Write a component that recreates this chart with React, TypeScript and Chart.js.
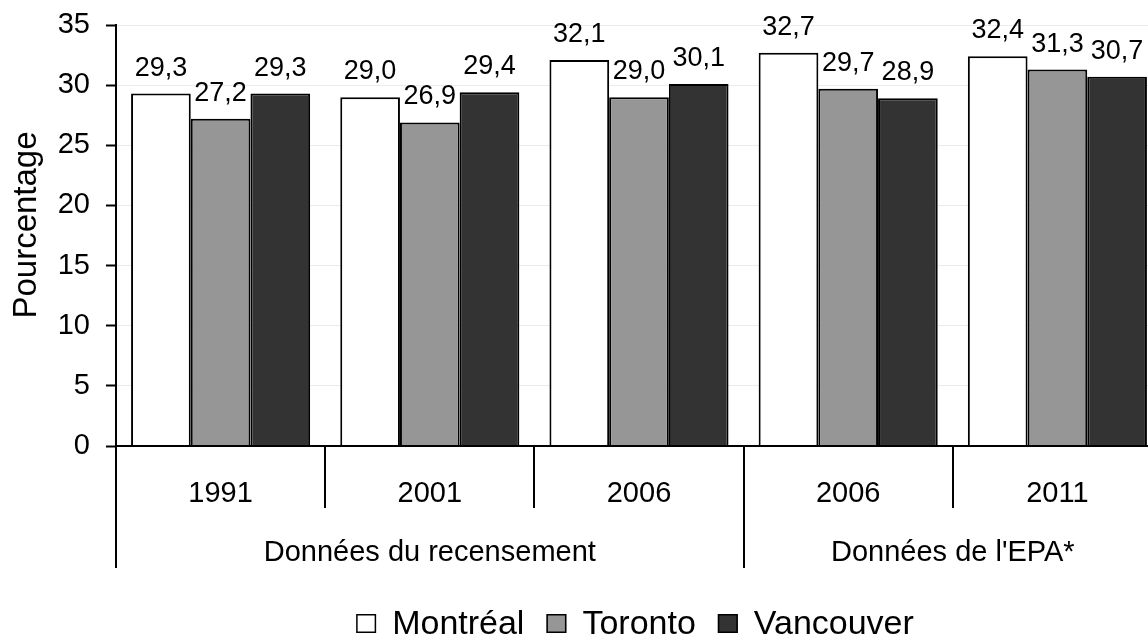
import React, { useEffect, useRef } from "react";
import { Chart, registerables } from "chart.js";

Chart.register(...registerables);

const categories = ["1991", "2001", "2006", "2006", "2011"];
const groupLabels = ["Données du recensement", "Données de l'EPA*"];
const groupSpans = [3, 2];
const seriesNames = ["Montréal", "Toronto", "Vancouver"];
const montreal = [29.3, 29.0, 32.1, 32.7, 32.4];
const toronto = [27.2, 26.9, 29.0, 29.7, 31.3];
const vancouver = [29.3, 29.4, 30.1, 28.9, 30.7];
const seriesColors = ["#ffffff", "#969696", "#333333"];
const yTicks = [0, 5, 10, 15, 20, 25, 30, 35];
const yTitle = "Pourcentage";

const FONT = "'Liberation Sans', Arial, sans-serif";
const W = 1162;
const H = 639;

const fmt = (v: number) => v.toFixed(1).replace(".", ",");

const overlayPlugin = {
  id: "overlay",
  afterDatasetsDraw(chart: any) {
    const ctx = chart.ctx;
    const area = chart.chartArea;
    ctx.save();
    // data labels
    ctx.fillStyle = "#000";
    ctx.font = `27px ${FONT}`;
    ctx.textAlign = "center";
    ctx.textBaseline = "alphabetic";
    chart.data.datasets.forEach((ds: any, di: number) => {
      const meta = chart.getDatasetMeta(di);
      meta.data.forEach((el: any, i: number) => {
        ctx.fillText(fmt(ds.data[i]), el.x, el.y - 18);
      });
    });
    // x axis line
    ctx.strokeStyle = "#000";
    ctx.lineWidth = 2;
    ctx.beginPath();
    ctx.moveTo(area.left, area.bottom);
    ctx.lineTo(area.right, area.bottom);
    ctx.stroke();
    ctx.restore();
  },
  afterDraw(chart: any) {
    const ctx = chart.ctx;
    const area = chart.chartArea;
    const n = categories.length;
    const catW = (area.right - area.left) / n;
    const y0 = area.bottom;
    ctx.save();
    ctx.strokeStyle = "#000";
    ctx.lineWidth = 2;
    // group boundaries
    const groupBounds: number[] = [0];
    let acc = 0;
    groupSpans.forEach((s) => {
      acc += s;
      groupBounds.push(acc);
    });
    for (let i = 0; i <= n; i++) {
      const x = Math.round(area.left + i * catW);
      const isGroup = groupBounds.includes(i);
      ctx.beginPath();
      ctx.moveTo(x, y0);
      ctx.lineTo(x, isGroup ? 568 : 508);
      ctx.stroke();
    }
    // category labels
    ctx.fillStyle = "#000";
    ctx.font = `29px ${FONT}`;
    ctx.textAlign = "center";
    ctx.textBaseline = "alphabetic";
    categories.forEach((c, i) => {
      ctx.fillText(c, area.left + (i + 0.5) * catW, 502);
    });
    // group labels
    groupLabels.forEach((g, gi) => {
      const a = groupBounds[gi];
      const b = groupBounds[gi + 1];
      const cx = area.left + ((a + b) / 2) * catW;
      ctx.fillText(g, cx, 561);
    });
    // y title
    ctx.save();
    ctx.translate(36, 225);
    ctx.rotate(-Math.PI / 2);
    ctx.font = `33px ${FONT}`;
    ctx.textAlign = "center";
    ctx.fillText(yTitle, 0, 0);
    ctx.restore();
    // legend
    ctx.font = `34px ${FONT}`;
    const box = 20;
    const gapBoxText = 16;
    const gapItems = 22;
    const widths = seriesNames.map((s) => ctx.measureText(s).width);
    let total = 0;
    widths.forEach((w, i) => {
      total += box + gapBoxText + w + (i < widths.length - 1 ? gapItems : 0);
    });
    let x = 635 - total / 2;
    const baseline = 634;
    ctx.textAlign = "left";
    seriesNames.forEach((s, i) => {
      ctx.fillStyle = seriesColors[i];
      ctx.fillRect(x, baseline - 20, box, box - 1);
      ctx.lineWidth = 1.5;
      ctx.strokeStyle = "#000";
      ctx.strokeRect(x + 0.75, baseline - 20 + 0.75, box - 1.5, box - 2.5);
      x += box + gapBoxText;
      ctx.fillStyle = "#000";
      ctx.fillText(s, x, baseline);
      x += widths[i] + gapItems;
    });
    ctx.restore();
  },
};

export default function App() {
  const ref = useRef<HTMLCanvasElement | null>(null);
  useEffect(() => {
    if (!ref.current) return;
    const data = [montreal, toronto, vancouver];
    const chart = new Chart(ref.current, {
      type: "bar",
      data: {
        labels: categories,
        datasets: seriesNames.map((name, i) => ({
          label: name,
          data: data[i],
          backgroundColor: seriesColors[i],
          borderColor: "#000",
          borderWidth: 2,
          borderSkipped: "start",
          categoryPercentage: 0.856,
          barPercentage: 1,
        })),
      },
      options: {
        responsive: false,
        animation: false,
        layout: { padding: { top: 25, left: 0, right: 0, bottom: 0 } },
        plugins: {
          legend: { display: false },
          tooltip: { enabled: false },
        },
        scales: {
          x: {
            ticks: { display: false },
            grid: { display: false, drawTicks: false },
            border: { display: false },
            afterFit: (s: any) => {
              s.height = 193;
              s.paddingLeft = 0;
              s.paddingRight = 0;
            },
          },
          y: {
            min: 0,
            max: 35,
            afterBuildTicks: (s: any) => {
              s.ticks = yTicks.map((v) => ({ value: v }));
            },
            ticks: {
              color: "#000",
              font: { family: FONT, size: 29 },
              padding: 16,
            },
            grid: {
              color: "rgba(0,0,0,0.08)",
              lineWidth: 1,
              tickColor: "#000",
              tickLength: 10,
              tickWidth: 2,
            },
            border: { display: true, color: "#000", width: 2 },
            afterFit: (s: any) => {
              s.width = 116;
              s.paddingTop = 0;
              s.paddingBottom = 0;
            },
          },
        },
      },
      plugins: [overlayPlugin],
    });
    return () => chart.destroy();
  }, []);
  return (
    <div style={{ position: "fixed", left: 0, top: 0, width: W, height: H }}>
      <canvas ref={ref} width={W} height={H} style={{ width: W, height: H, display: "block" }} />
    </div>
  );
}
